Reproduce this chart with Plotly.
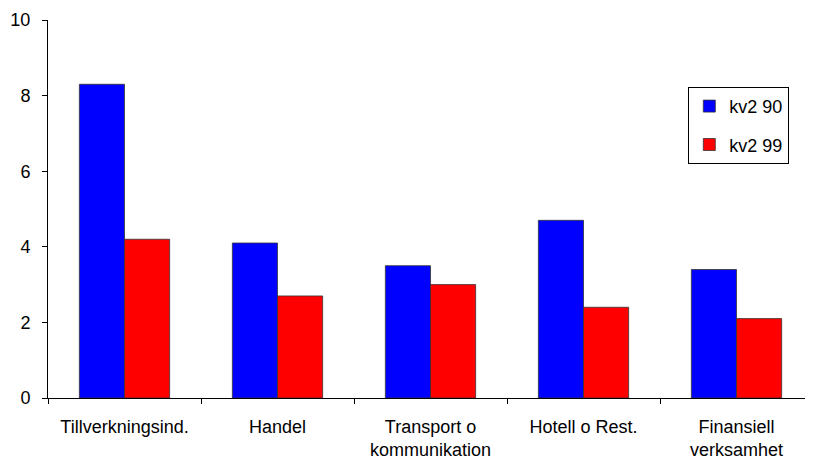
import plotly.graph_objects as go

categories = ["Tillverkningsind.", "Handel", "Transport o<br>kommunikation", "Hotell o Rest.", "Finansiell<br>verksamhet"]
series_names = ["kv2 90", "kv2 99"]
values_90 = [8.3, 4.1, 3.5, 4.7, 3.4]
values_99 = [4.2, 2.7, 3.0, 2.4, 2.1]
y_ticks = [0, 2, 4, 6, 8, 10]

fig = go.Figure()
fig.add_trace(go.Bar(x=categories, y=values_90, name=series_names[0], legendgroup="a",
                     marker=dict(color="#0000FF", line=dict(color="#333333", width=0.8))))
fig.add_trace(go.Bar(x=categories, y=values_99, name=series_names[1], legendgroup="b",
                     marker=dict(color="#FF0000", line=dict(color="#333333", width=0.8))))

fig.update_layout(
    width=805, height=455,
    margin=dict(l=40, r=0, t=12, b=65, autoexpand=False),
    paper_bgcolor="white", plot_bgcolor="white",
    barmode="group", bargap=0.41, bargroupgap=0,
    font=dict(family="Liberation Sans, Arial", size=18, color="black"),
    legend=dict(x=0.837, y=0.823, xanchor="left", yanchor="top",
                bordercolor="black", borderwidth=1, bgcolor="white",
                font=dict(size=18), itemwidth=30, tracegroupgap=12),
    xaxis=dict(showline=True, linecolor="black", linewidth=1,
               ticks="outside", ticklen=5, tickcolor="black", tickson="boundaries",
               ticklabelstandoff=12, tickfont=dict(size=18),
               showgrid=False, fixedrange=True, automargin=False),
    yaxis=dict(range=[0, 10], tickvals=y_ticks, showline=True, linecolor="black", linewidth=1,
               ticks="outside", ticklen=5, tickcolor="black", showgrid=False, zeroline=False,
               ticklabelstandoff=8, tickfont=dict(size=18),
               fixedrange=True, automargin=False),
    showlegend=True,
)

fig.write_html("out.html")
